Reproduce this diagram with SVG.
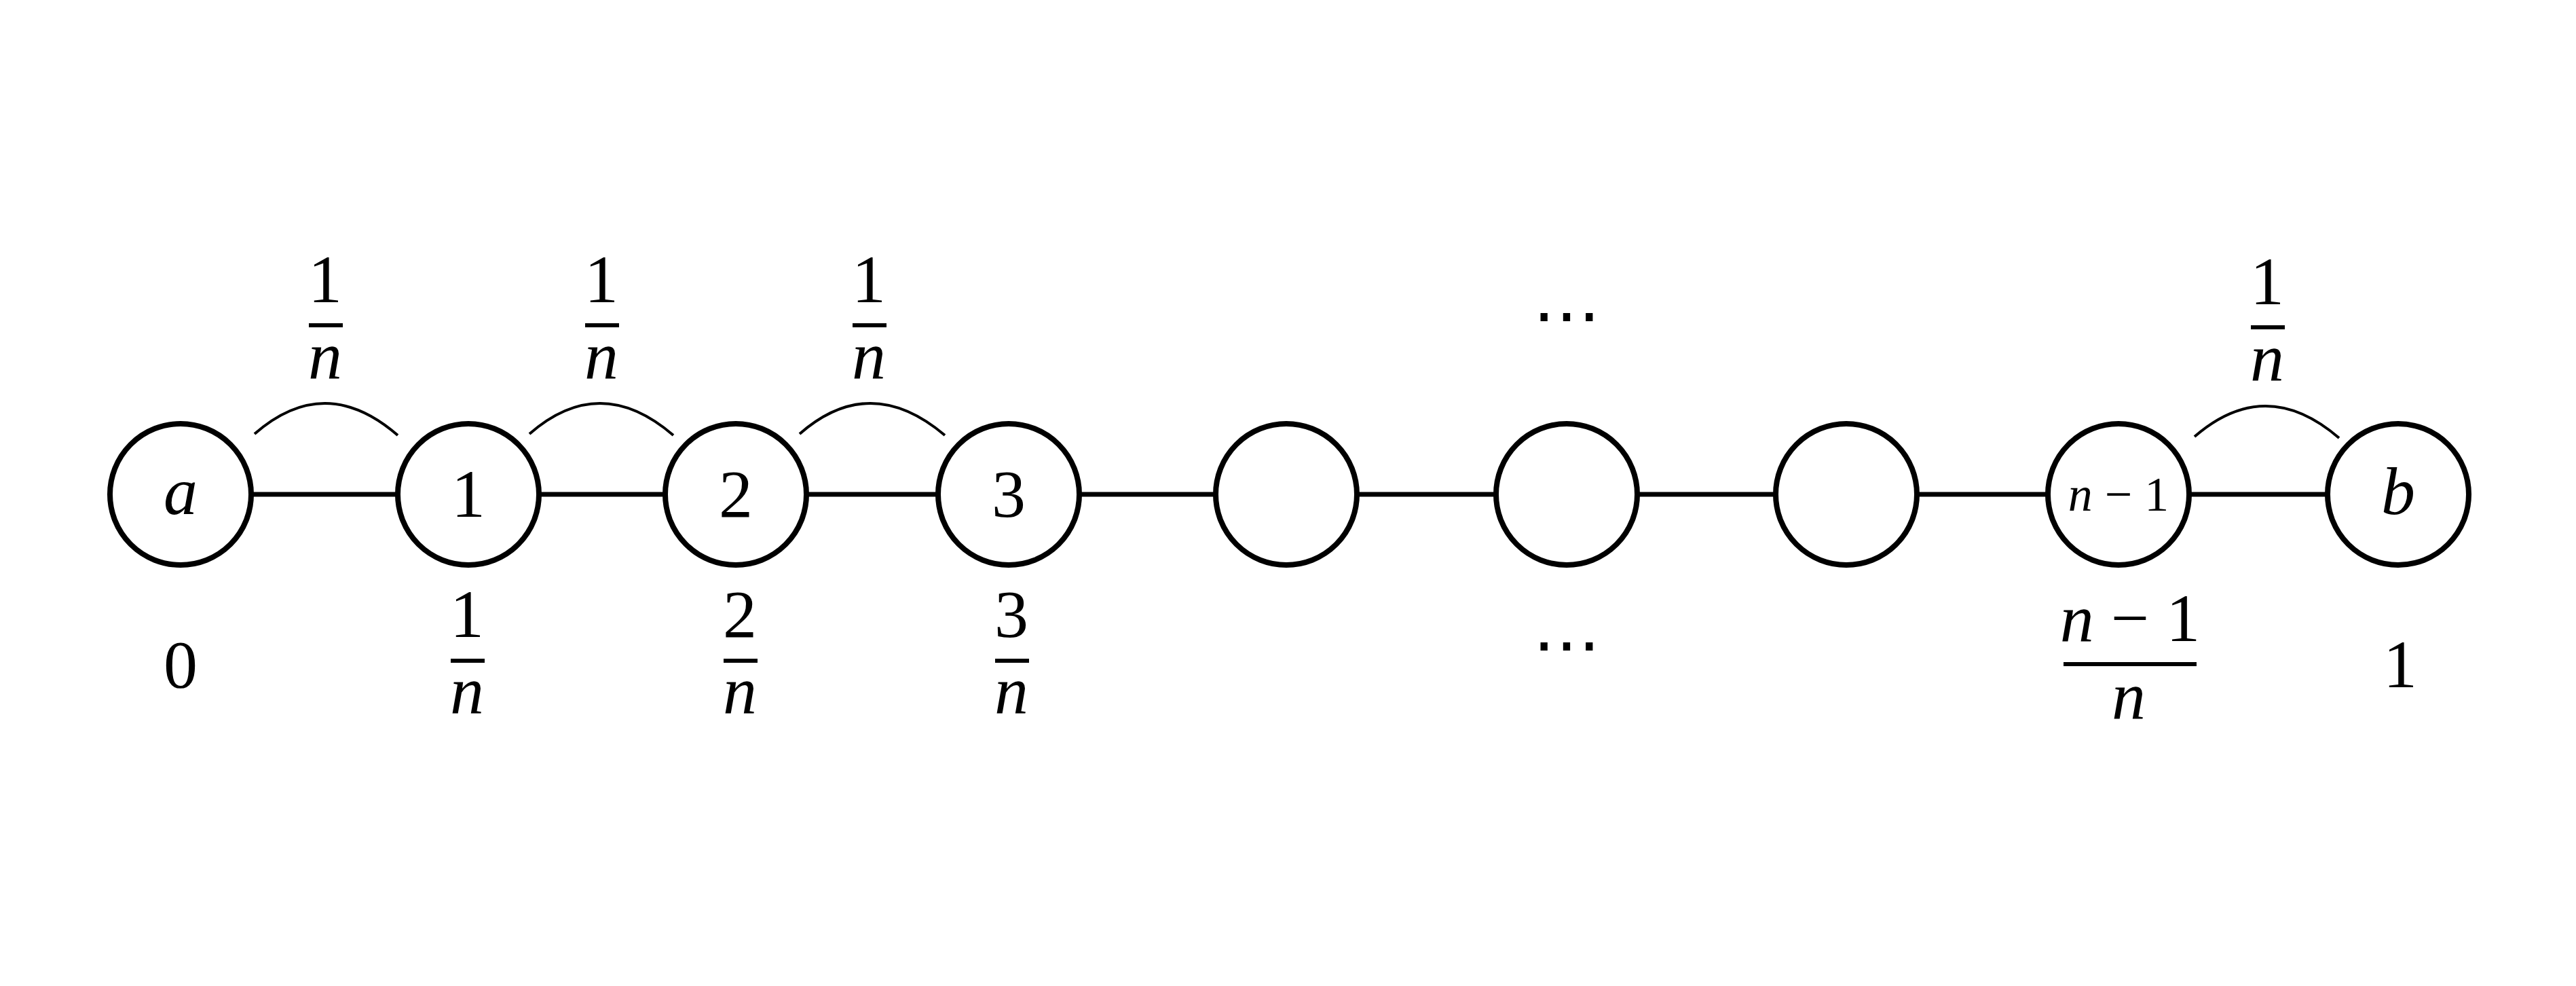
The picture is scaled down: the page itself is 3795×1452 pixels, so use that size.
<svg xmlns="http://www.w3.org/2000/svg" width="3795" height="1452" viewBox="0 0 3795 1452">
<style>
.c{fill:#fff;stroke:#000;stroke-width:8}
.l{stroke:#000;stroke-width:7}
.arc{fill:none;stroke:#000;stroke-width:4}
.bar{stroke:#000;stroke-width:6}
text{font-family:"Liberation Serif","DejaVu Serif",serif;font-size:100px;text-anchor:middle;fill:#000}
.i{font-style:italic}
</style>
<rect width="3795" height="1452" fill="#fff"/>
<g id="connectors">
<line class="l" x1="266" y1="728" x2="3533" y2="728"/>
<path class="arc" d="M375,639 Q479,548 586,641"/>
<path class="arc" d="M780,639 Q884,548 992,641"/>
<path class="arc" d="M1178,639 Q1282,548 1392,641"/>
<path class="arc" d="M3233,643 Q3338,552 3446,645"/>
</g>
<g id="na"><circle class="c" cx="266" cy="728" r="104"/><text class="i" x="266" y="757">a</text></g>
<g id="n1"><circle class="c" cx="690" cy="728" r="104"/><text x="690" y="761">1</text></g>
<g id="n2"><circle class="c" cx="1084" cy="728" r="104"/><text x="1084" y="761">2</text></g>
<g id="n3"><circle class="c" cx="1486" cy="728" r="104"/><text x="1486" y="761">3</text></g>
<g id="n4"><circle class="c" cx="1895" cy="728" r="104"/></g>
<g id="n5"><circle class="c" cx="2308" cy="728" r="104"/></g>
<g id="n6"><circle class="c" cx="2720" cy="728" r="104"/></g>
<g id="nn1"><circle class="c" cx="3121" cy="728" r="104"/><text x="3121" y="752" style="font-size:72px"><tspan class="i">n</tspan> − 1</text></g>
<g id="nb"><circle class="c" cx="3533" cy="728" r="104"/><text class="i" x="3533" y="757">b</text></g>
<g id="labels">
<text x="479" y="445">1</text><line class="bar" x1="455" y1="479" x2="505" y2="479"/><text class="i" x="479" y="557">n</text>
<text x="886" y="445">1</text><line class="bar" x1="862" y1="479" x2="912" y2="479"/><text class="i" x="886" y="557">n</text>
<text x="1280" y="445">1</text><line class="bar" x1="1256" y1="479" x2="1306" y2="479"/><text class="i" x="1280" y="557">n</text>
<text x="3340" y="448">1</text><line class="bar" x1="3316" y1="482" x2="3366" y2="482"/><text class="i" x="3340" y="560">n</text>
<text x="2308" y="498">⋯</text>
<text x="2308" y="983">⋯</text>
<text x="266" y="1012">0</text>
<text x="688" y="938">1</text><line class="bar" x1="664" y1="973" x2="714" y2="973"/><text class="i" x="688" y="1050">n</text>
<text x="1090" y="938">2</text><line class="bar" x1="1066" y1="973" x2="1116" y2="973"/><text class="i" x="1090" y="1050">n</text>
<text x="1490" y="938">3</text><line class="bar" x1="1466" y1="973" x2="1516" y2="973"/><text class="i" x="1490" y="1050">n</text>
<text x="3138" y="944"><tspan class="i">n</tspan> − 1</text><line class="bar" x1="3040" y1="978" x2="3236" y2="978"/><text class="i" x="3136" y="1058">n</text>
<text x="3536" y="1012">1</text>
</g>
</svg>
